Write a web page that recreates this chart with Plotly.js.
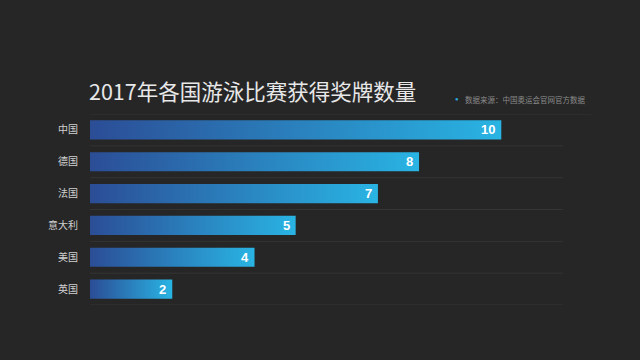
<!DOCTYPE html>
<html>
<head>
<meta charset="utf-8">
<script src="https://cdn.plot.ly/plotly-3.0.1.min.js"></script>
<style>html,body{margin:0;padding:0;background:#262626;}#chart{width:640px;height:360px;}</style>
</head>
<body>
<div id="chart"></div>
<script>
const countries = ["中国", "德国", "法国", "意大利", "美国", "英国"];
const medals = [10, 8, 7, 5, 4, 2];
const titleText = "2017年各国游泳比赛获得奖牌数量";
const sourceText = "数据来源：中国奥运会官网官方数据";

const half = 0.3;
const traces = [];
countries.forEach((c, i) => {
  const v = medals[i];
  traces.push({
    type: "scatter",
    mode: "lines",
    x: [0, v, v, 0, 0],
    y: [i - half, i - half, i + half, i + half, i - half],
    fill: "toself",
    line: {width: 0, color: "rgba(0,0,0,0)"},
    fillgradient: {type: "horizontal", colorscale: [[0, "#2b4d96"], [1, "#29b4e3"]]},
    hoverinfo: "skip",
    showlegend: false
  });
});

const shapes = [];
for (let k = 0; k < countries.length; k++) {
  shapes.push({type: "line", xref: "paper", yref: "y", x0: 0, x1: 1, y0: k + 0.5, y1: k + 0.5,
    line: {color: "#343434", width: 1}, layer: "below"});
}
shapes.push({type: "line", xref: "paper", yref: "y", x0: 0, x1: 1.06, y0: -0.5, y1: -0.5,
  line: {color: "#333333", width: 1}, layer: "below"});

const valueLabels = medals.map((v, i) => ({
  xref: "x", yref: "y", x: v, y: i, xanchor: "right", yanchor: "middle", xshift: -4,
  text: String(v), showarrow: false,
  font: {family: "Liberation Sans, Arial", size: 13, color: "#ffffff", weight: "bold"}
}));

const layout = {
  width: 640, height: 360,
  paper_bgcolor: "#262626", plot_bgcolor: "#262626",
  margin: {l: 90, r: 77, t: 114, b: 55},
  title: {text: titleText, x: 89/640, xanchor: "left", y: 1 - 92/360, yanchor: "middle",
    font: {family: "Noto Sans CJK SC", size: 21.5, color: "#e8e8e8"}},
  xaxis: {range: [0, 11.5], showgrid: false, zeroline: false, showticklabels: false, fixedrange: true},
  yaxis: {range: [5.5, -0.5], tickmode: "array", tickvals: countries.map((c, i) => i), ticktext: countries,
    showgrid: false, zeroline: false, ticks: "outside", ticklen: 9, tickcolor: "rgba(0,0,0,0)",
    tickfont: {family: "Noto Sans CJK SC", size: 10, color: "#d0d0d0"}},
  shapes: shapes,
  annotations: valueLabels.concat([
    {xref: "paper", yref: "paper", x: (463 - 90)/473, y: 1 + (114 - 99)/191, xanchor: "left", yanchor: "middle",
      text: sourceText, showarrow: false, font: {family: "Noto Sans CJK SC", size: 7.5, color: "#8a8a8a"}},
    {xref: "paper", yref: "paper", x: (457 - 90)/473, y: 1 + (114 - 99)/191, xanchor: "center", yanchor: "middle",
      text: "●", showarrow: false, font: {size: 6, color: "#2aa6dc"}}
  ])
};
Plotly.newPlot("chart", traces, layout, {displayModeBar: false, staticPlot: true});
</script>
</body>
</html>
